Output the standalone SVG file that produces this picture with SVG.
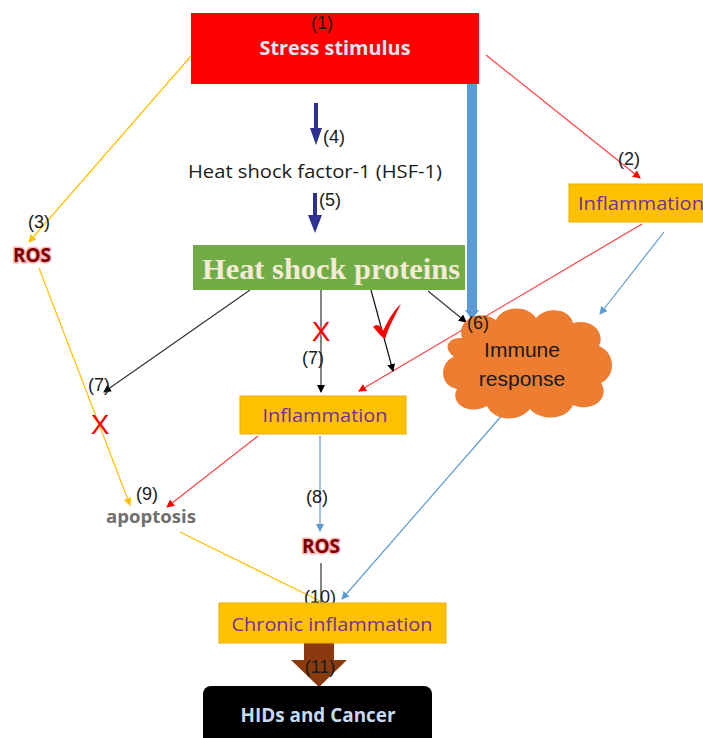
<svg xmlns="http://www.w3.org/2000/svg" width="703" height="738" viewBox="0 0 703 738">
<style>
.lbl{font-family:"Liberation Sans",Arial,sans-serif;font-size:18px;fill:#1a1a1a;text-anchor:middle}
.big{font-family:"Liberation Sans",Arial,sans-serif;font-size:21px;fill:#1a1a1a;text-anchor:middle}
.infl{font-family:"Open Sans","Liberation Sans",sans-serif;font-size:19px;fill:#7030a0;text-anchor:middle}
.ros{font-family:"Open Sans","Liberation Sans",sans-serif;font-weight:bold;font-size:19px;fill:#7a0000;stroke:#ff5050;stroke-width:3;stroke-opacity:0.45;paint-order:stroke;text-anchor:middle}
.ybox{fill:#ffc000;stroke:#e8b000;stroke-width:1}
.ln{fill:none;stroke-width:1.2}
.x{font-family:"Liberation Sans",sans-serif;font-size:28px;fill:#ff0000;text-anchor:middle}
</style>
<defs>
<marker id="aY" markerWidth="8" markerHeight="8" refX="7" refY="4" orient="auto" markerUnits="userSpaceOnUse"><path d="M0,0 L8,4 L0,8 z" fill="#ffc000"/></marker>
<marker id="aR" markerWidth="8" markerHeight="8" refX="7" refY="4" orient="auto" markerUnits="userSpaceOnUse"><path d="M0,0 L8,4 L0,8 z" fill="#ff0000"/></marker>
<marker id="aB" markerWidth="8" markerHeight="8" refX="7" refY="4" orient="auto" markerUnits="userSpaceOnUse"><path d="M0,0 L8,4 L0,8 z" fill="#5b9bd5"/></marker>
<marker id="aK" markerWidth="8" markerHeight="8" refX="7" refY="4" orient="auto" markerUnits="userSpaceOnUse"><path d="M0,0 L8,4 L0,8 z" fill="#000"/></marker>
</defs>

<g id="connectors">
  <line class="ln" x1="191" y1="56" x2="29" y2="242" stroke="#ffc000" marker-end="url(#aY)"/>
  <line class="ln" x1="39" y1="268" x2="130" y2="505" stroke="#ffc000" stroke-width="1.5" marker-end="url(#aY)"/>
  <line class="ln" x1="486" y1="55" x2="640" y2="178" stroke="#ff4040" marker-end="url(#aR)"/>
  <line class="ln" x1="642" y1="224" x2="359" y2="391" stroke="#ff4040" marker-end="url(#aR)"/>
  <line class="ln" x1="664" y1="232" x2="600" y2="314" stroke="#5b9bd5" marker-end="url(#aB)"/>
  <line class="ln" x1="250" y1="290" x2="104" y2="392" stroke="#333" marker-end="url(#aK)"/>
  <line class="ln" x1="321" y1="290" x2="321" y2="392" stroke="#333" marker-end="url(#aK)"/>
  <line class="ln" x1="371" y1="290" x2="393" y2="371" stroke="#111" stroke-width="1.6" marker-end="url(#aK)"/>
  <line class="ln" x1="428" y1="291" x2="466" y2="322" stroke="#333" marker-end="url(#aK)"/>
  <line class="ln" x1="258" y1="436" x2="167" y2="507" stroke="#ff4040" marker-end="url(#aR)"/>
  <line class="ln" x1="320" y1="436" x2="320" y2="531" stroke="#6f93d8" stroke-width="2" marker-end="url(#aB)"/>
  <line class="ln" x1="180" y1="532" x2="320" y2="601" stroke="#ffc000" stroke-width="1.5"/>
  <line class="ln" x1="321" y1="563" x2="321" y2="603" stroke="#333"/>
  <line class="ln" x1="504" y1="413" x2="342" y2="599" stroke="#5b9bd5" marker-end="url(#aB)"/>
  <rect x="467" y="84" width="10" height="226" fill="#5b9bd5"/>
  <path d="M465,310 L479,310 L472,320 z" fill="#5b9bd5"/>
  <path d="M314,103 L318,103 L318,128 L322,128 L316,145 L310,128 L314,128 z" fill="#2e3192"/>
  <path d="M313,193 L317,193 L317,215 L322,215 L315,233 L308,215 L313,215 z" fill="#2e3192"/>
  <path d="M304,643 L334,643 L334,660 L347,660 L319,687 L291,660 L304,660 z" fill="#8b3a0f"/>
</g>

<g id="stress">
  <rect x="191" y="13" width="288" height="71" fill="#ff0000"/>
  <text class="lbl" x="322" y="29">(1)</text>
  <text x="335" y="55" font-family="Open Sans,Liberation Sans,sans-serif" font-weight="bold" font-size="20" fill="#dce6f2" text-anchor="middle" textLength="151" lengthAdjust="spacingAndGlyphs">Stress stimulus</text>
</g>

<g id="hsf">
  <text class="lbl" x="334" y="143">(4)</text>
  <text x="315" y="178" font-family="Open Sans,Liberation Sans,sans-serif" font-size="19" fill="#1a1a1a" text-anchor="middle" textLength="254" lengthAdjust="spacingAndGlyphs">Heat shock factor-1 (HSF-1)</text>
  <text class="lbl" x="330" y="206">(5)</text>
</g>

<g id="hsp">
  <rect x="193" y="245" width="272" height="45" fill="#70ad47"/>
  <text x="331" y="279" font-family="Liberation Serif,serif" font-weight="bold" font-size="29" fill="#f5ead6" text-anchor="middle" textLength="258" lengthAdjust="spacingAndGlyphs">Heat shock proteins</text>
</g>

<g id="ros1">
  <text class="lbl" x="39" y="228">(3)</text>
  <text class="ros" x="32" y="262" textLength="38" lengthAdjust="spacingAndGlyphs">ROS</text>
</g>

<g id="infl-right">
  <text class="lbl" x="629" y="165">(2)</text>
  <rect class="ybox" x="569" y="184" width="140" height="38"/>
  <text x="578" y="210" font-family="Open Sans,Liberation Sans,sans-serif" font-size="19" fill="#7030a0" textLength="126" lengthAdjust="spacingAndGlyphs">Inflammation</text>
</g>

<g id="immune">
  <path d="M462,338 C456,320 480,308 496,320 C503,305 528,305 536,318 C546,306 570,308 573,323 C590,318 606,331 599,346 C616,353 616,376 601,383 C611,399 591,413 573,405 C566,421 540,421 530,409 C518,423 494,421 487,406 C469,416 449,403 457,389 C439,386 439,362 454,357 C442,348 448,337 462,338 z" fill="#ed7d31"/>
  <text class="lbl" x="478" y="329">(6)</text>
  <text class="big" x="522" y="357">Immune</text>
  <text class="big" x="522" y="386">response</text>
</g>

<g id="marks">
  <text class="lbl" x="99" y="391">(7)</text>
  <text class="x" x="100" y="434">X</text>
  <text class="x" x="321" y="341">X</text>
  <text class="lbl" x="313" y="364">(7)</text>
  <path d="M373,327 C377,323 380,325 383,331 C389,318 395,309 401,304 C396,314 389,326 385,339 C381,337 377,331 373,327 z" fill="#ff0000"/>
</g>

<g id="infl-mid">
  <rect class="ybox" x="240" y="396" width="166" height="38"/>
  <text class="infl" x="325" y="422" textLength="125" lengthAdjust="spacingAndGlyphs">Inflammation</text>
</g>

<g id="apoptosis">
  <text class="lbl" x="147" y="500">(9)</text>
  <text x="151" y="523" font-family="Open Sans,Liberation Sans,sans-serif" font-weight="bold" font-size="18" fill="#707070" text-anchor="middle" textLength="90" lengthAdjust="spacingAndGlyphs">apoptosis</text>
</g>

<g id="ros2">
  <text class="lbl" x="317" y="503">(8)</text>
  <text class="ros" x="321" y="553" textLength="38" lengthAdjust="spacingAndGlyphs">ROS</text>
</g>

<g id="chronic">
  <text class="lbl" x="320" y="603">(10)</text>
  <rect class="ybox" x="219" y="603" width="227" height="40"/>
  <text class="infl" x="332" y="631" textLength="201" lengthAdjust="spacingAndGlyphs">Chronic inflammation</text>
</g>

<g id="hids">
  <text class="lbl" x="320" y="673">(11)</text>
  <rect x="203" y="686" width="229" height="60" rx="8" fill="#000"/>
  <text x="318" y="722" font-family="Open Sans,Liberation Sans,sans-serif" font-weight="bold" font-size="19" fill="#c6d9f1" text-anchor="middle" textLength="155" lengthAdjust="spacingAndGlyphs">HIDs and Cancer</text>
</g>
</svg>
